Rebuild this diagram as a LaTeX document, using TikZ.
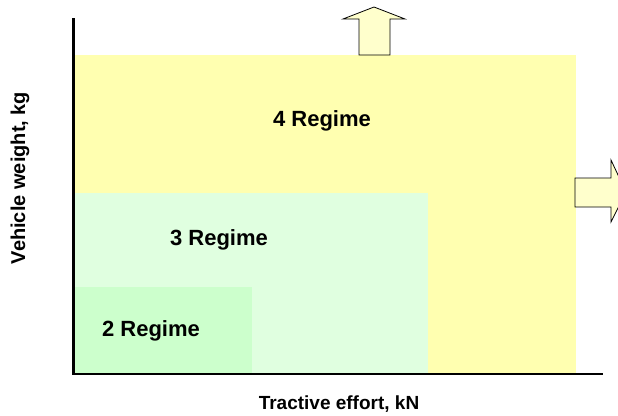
\documentclass[tikz,border=0pt]{standalone}
\usepackage{fontspec}
\setmainfont{Liberation Sans}
\definecolor{regfour}{HTML}{FFFFB0}
\definecolor{regthree}{HTML}{E0FFE0}
\definecolor{regtwo}{HTML}{CCFFCC}
\definecolor{arrowfill}{HTML}{FFFFCC}
\begin{document}
\begin{tikzpicture}[x=1pt,y=-1pt,
  label/.style={font=\fontsize{22}{24}\selectfont\bfseries, inner sep=0pt},
  axislabel/.style={font=\fontsize{20}{22}\selectfont\bfseries, inner sep=0pt},
  axis/.style={line width=2.4pt, black},
  bigarrow/.style={draw=black, line width=0.8pt, fill=arrowfill, line join=miter}]
\useasboundingbox (0,0) rectangle (618,415);
% regimes
\fill[regfour] (75,55) rectangle (576,374);
\fill[regthree] (75,193) rectangle (428,374);
\fill[regtwo] (75,287) rectangle (252,374);
% outward arrows
\draw[bigarrow] (359,55) -- (359,19) -- (343,19) -- (374,7) -- (405,19) -- (390,19) -- (390,55) -- cycle;
\begin{scope}
\clip (0,0) rectangle (618,415);
\draw[bigarrow] (575,178) -- (611,178) -- (611,160) -- (626,192) -- (611,222) -- (611,207) -- (575,207) -- cycle;
\end{scope}
% axes
\coordinate (origin) at (73.5,374);
\coordinate (ytop) at (73.5,18);
\coordinate (xend) at (603,374);
\draw[axis] (ytop) -- (origin) -- (xend);
% labels
\node[label] (r4) at (322,121) {4 Regime};
\node[label] (r3) at (219,240) {3 Regime};
\node[label] (r2) at (151,331) {2 Regime};
\node[axislabel, rotate=90] (ylab) at (20,178) {Vehicle weight, kg};
\node[axislabel, font=\fontsize{19}{21}\selectfont\bfseries] (xlab) at (339,404) {Tractive effort, kN};
\end{tikzpicture}
\end{document}
